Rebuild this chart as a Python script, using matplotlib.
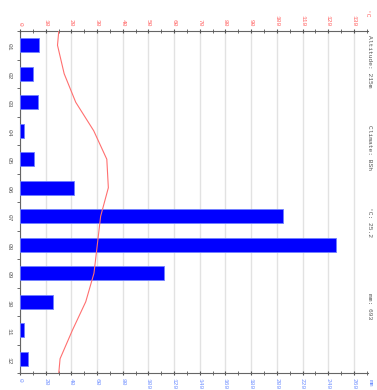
import numpy as np
import matplotlib
matplotlib.use("Agg")
from matplotlib import pyplot as plt
from matplotlib.ticker import MultipleLocator

months = ["01", "02", "03", "04", "05", "06", "07", "08", "09", "10", "11", "12"]
precip = [15, 10, 14, 3, 11, 42, 205, 246, 112, 26, 3, 6]  # mm
temp = [14.6, 17.2, 21.7, 28.7, 33.8, 34.4, 31.4, 30.1, 28.8, 25.6, 20.4, 15.6]  # deg C
info = ["Altitude: 215m", "Climate: BSh", "\u00b0C: 25.2", "mm: 693"]
info_y = [35, 125, 207, 293]  # px from top

mono = ["Liberation Mono", "DejaVu Sans Mono"]
fs = 4.5

fig = plt.figure(figsize=(3.77, 3.90), dpi=100)
ax = fig.add_axes([20 / 377, 1 - 373 / 390, 348 / 377, 342 / 390])

pos = np.arange(1, 13)
ax.barh(pos, precip, height=0.5, color="#0000ff", edgecolor="#7080ff", linewidth=0.6, zorder=3)
ax.set_ylim(12.5, 0.5)
ax.set_xlim(0, 271)
ax.xaxis.set_minor_locator(MultipleLocator(10))
ax.set_xticks(np.arange(0, 261, 20))
ax.grid(axis="x", color="#e2e2e2", linewidth=1, zorder=0)
ax.set_yticks(pos)
ax.set_yticklabels(months, rotation=-90, family=mono, fontsize=fs, color="#555555")
ax.set_yticks(np.arange(0.5, 13, 1), minor=True)
ax.tick_params(axis="y", which="major", length=0, pad=6)
ax.tick_params(axis="y", which="minor", length=2, direction="out", color="#555555")
ax.tick_params(axis="x", which="both", direction="inout", length=3, color="#555555", pad=2)
for lab in ax.get_xticklabels():
    lab.set_rotation(-90)
    lab.set_family(mono)
    lab.set_fontsize(fs)
    lab.set_color("#7090ff")
ax.spines["right"].set_visible(False)
for s in ["left", "bottom", "top"]:
    ax.spines[s].set_color("#666666")
    ax.spines[s].set_linewidth(0.8)

tx = ax.twiny()
tx.set_xlim(0, 271 / 2)
tx.set_xticks(np.arange(0, 131, 10))
tx.xaxis.set_minor_locator(MultipleLocator(5))
tx.tick_params(axis="x", which="both", direction="inout", length=3, color="#555555", pad=2)
for lab in tx.get_xticklabels():
    lab.set_rotation(-90)
    lab.set_family(mono)
    lab.set_fontsize(fs)
    lab.set_color("#ff6060")
for s in tx.spines.values():
    s.set_visible(False)
# carry the curve to the plot edges using the neighbouring months (Dec / Jan)
ty = np.r_[pos[0] - 1, pos, pos[-1] + 1]
tv = np.r_[temp[-1], temp, temp[0]]
tx.plot(tv, ty, color="#ff7070", linewidth=0.8, zorder=4)

fig.text(367 / 377, 1 - 14 / 390, "\u00b0C", rotation=-90, family=mono, fontsize=fs,
         color="#ff6060", ha="center", va="center")
fig.text(370 / 377, 1 - 383 / 390, "mm", rotation=-90, family=mono, fontsize=fs,
         color="#7090ff", ha="center", va="center")
for t, y in zip(info, info_y):
    fig.text(370 / 377, 1 - y / 390, t, rotation=-90, family=mono, fontsize=fs,
             color="#555555", ha="center", va="top")

fig.savefig("out.png", dpi=100)
